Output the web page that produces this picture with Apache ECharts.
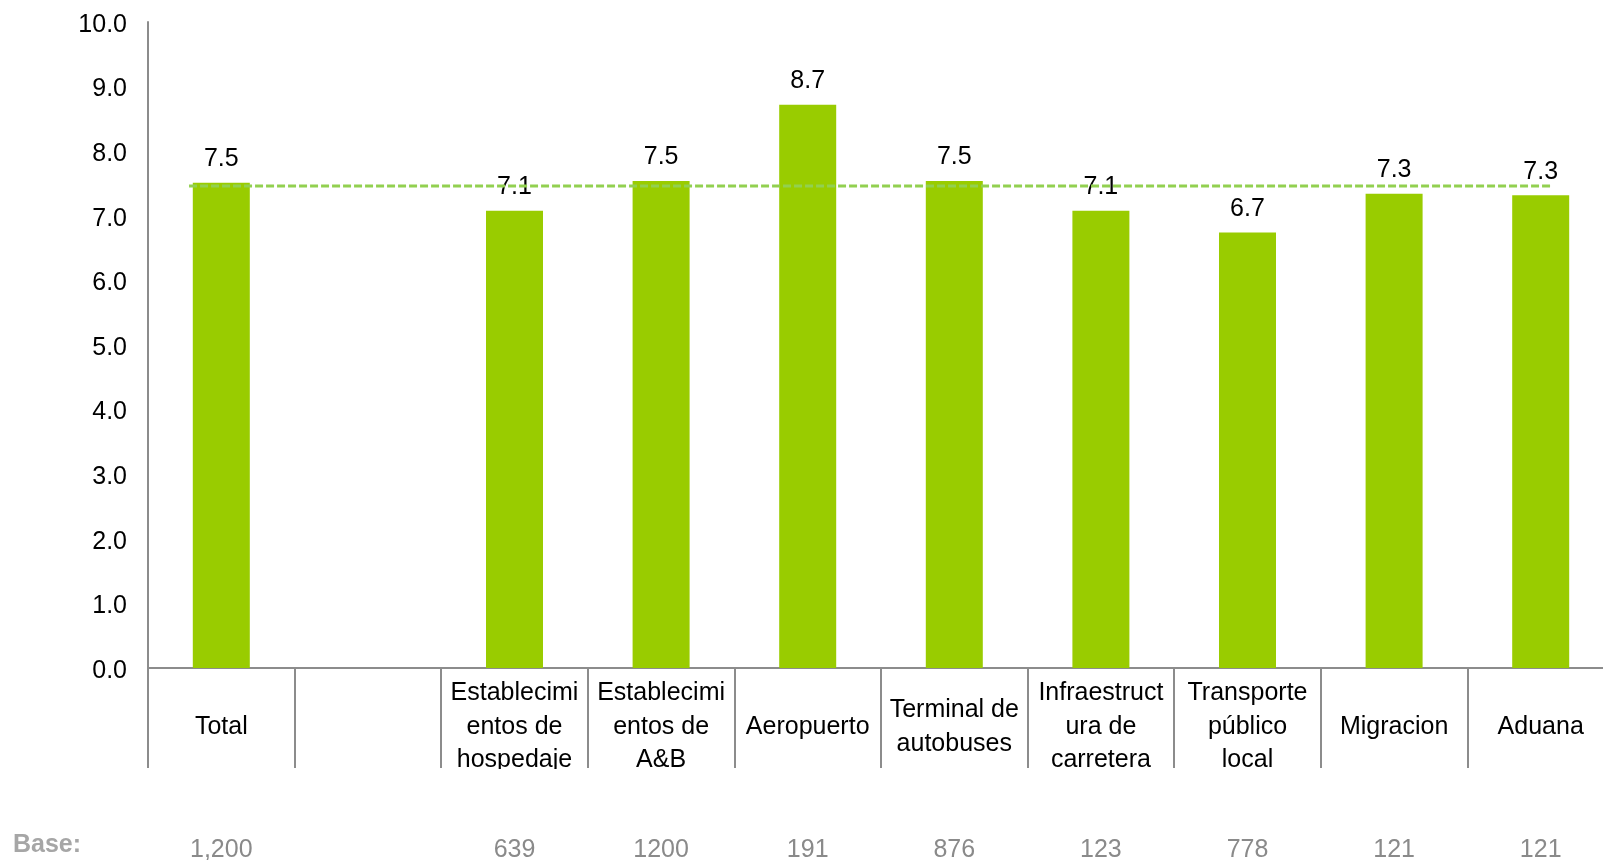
<!DOCTYPE html>
<html>
<head>
<meta charset="utf-8">
<script src="https://cdn.jsdelivr.net/npm/echarts@6/dist/echarts.min.js"></script>
<style>
html,body{margin:0;padding:0;background:#fff;}
#chart{width:1603px;height:860px;}
</style>
</head>
<body>
<div id="chart"></div>
<script>
// ---- data ----
const categoryLabels = ['Total', '', 'Establecimi\nentos de\nhospedaje', 'Establecimi\nentos de\nA&B', 'Aeropuerto', 'Terminal de\nautobuses', 'Infraestruct\nura de\ncarretera', 'Transporte\npúblico\nlocal', 'Migracion', 'Aduana'];
const scores = [7.51, null, 7.08, 7.54, 8.72, 7.54, 7.08, 6.74, 7.34, 7.32];
const baseLabels = ['1,200', '', '639', '1200', '191', '876', '123', '778', '121', '121'];
const baseTitle = 'Base:';
const averageValue = 7.46;
const averageSpan = [0.28, 9.57]; // in category units along the axis
const yTicks = [0, 10, 1]; // min, max, interval

const FONT = '"Liberation Sans", Arial, sans-serif';
const chart = echarts.init(document.getElementById('chart'));
chart.setOption({
  animation: false,
  backgroundColor: '#ffffff',
  title: {
    text: baseTitle,
    left: 13, top: 833, padding: 0,
    textStyle: {fontFamily: FONT, fontSize: 25, fontWeight: 'bold', color: '#a6a6a6'}
  },
  grid: {left: 148, top: 22, width: 1466, bottom: 192, containLabel: false, outerBoundsMode: 'none'},
  xAxis: [
    {
      type: 'category', data: categoryLabels, position: 'bottom',
      axisLine: {show: true, lineStyle: {color: '#8c8c8c', width: 2}},
      axisTick: {show: true, length: 100, interval: 0, lineStyle: {color: '#8c8c8c', width: 2}},
      axisLabel: {interval: 0, margin: 59, verticalAlign: 'middle', fontFamily: FONT, fontSize: 25,
        lineHeight: 33.5, color: '#000', align: 'center'},
      splitLine: {show: false}
    },
    {type: 'value', min: 0, max: 10, show: false},
    {
      type: 'category', data: baseLabels, position: 'bottom',
      axisLine: {show: false}, axisTick: {show: false}, splitLine: {show: false},
      axisLabel: {interval: 0, margin: 182, verticalAlign: 'middle', fontFamily: FONT, fontSize: 25, color: '#8a8a8a'}
    }
  ],
  yAxis: {
    type: 'value', min: yTicks[0], max: yTicks[1], interval: yTicks[2],
    axisLine: {show: true, lineStyle: {color: '#8c8c8c', width: 2}},
    axisTick: {show: false},
    splitLine: {show: false},
    axisLabel: {margin: 21, fontFamily: FONT, fontSize: 25, color: '#000', verticalAlign: 'top',
      lineHeight: 6, formatter: v => v.toFixed(1)}
  },
  series: [
    {
      type: 'bar', data: scores, xAxisIndex: 0, barWidth: 57,
      itemStyle: {color: '#99cc00'},
      label: {show: true, position: 'top', distance: 11, fontFamily: FONT, fontSize: 25, lineHeight: 25, color: '#000',
        formatter: p => p.value == null ? '' : Number(p.value).toFixed(1)}
    },
    {
      type: 'line', xAxisIndex: 1, z: 5, symbol: 'none',
      data: [[averageSpan[0], averageValue], [averageSpan[1], averageValue]],
      lineStyle: {color: '#92d050', width: 3, type: [8, 3]}
    }
  ],
  graphic: [
    {type: 'rect', z: 100, shape: {x: 140, y: 769, width: 1470, height: 34}, style: {fill: '#ffffff'}}
  ]
});
</script>
</body>
</html>
